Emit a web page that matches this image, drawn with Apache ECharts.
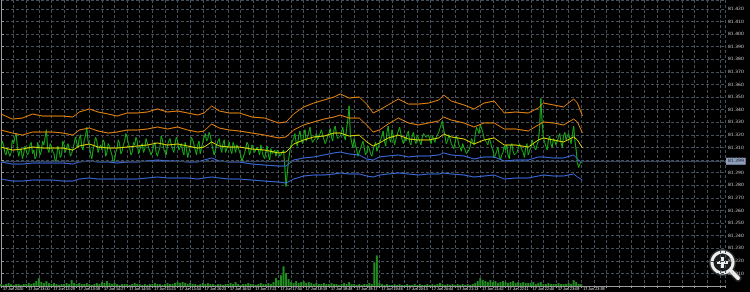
<!DOCTYPE html>
<html><head><meta charset="utf-8">
<script src="https://cdn.jsdelivr.net/npm/echarts@6/dist/echarts.min.js"></script>
<style>html,body{margin:0;padding:0;background:#000;}#c{width:750px;height:292px;}</style>
</head><body><div id="c"></div>
<script>
// time labels, one every 20 x-units
const timeLabels = ["17 Jun 2020","17 Jun 13:00","17 Jun 13:29","17 Jun 13:58","17 Jun 14:27","17 Jun 14:56","17 Jun 15:25","17 Jun 15:54","17 Jun 16:23","17 Jun 16:52","17 Jun 17:21","17 Jun 17:50","17 Jun 18:19","17 Jun 18:48","17 Jun 19:17","17 Jun 19:46","17 Jun 20:15","17 Jun 20:44","17 Jun 21:13","17 Jun 21:42","17 Jun 22:11","17 Jun 22:40","17 Jun 23:09","17 Jun 23:38"];
const labelEvery = 20;
// prices are in points above 81.200 (1 point = 0.001)
const priceBase = 81.2;
const pointSize = 0.001;
// close price, one sample per x-unit
const closeStep = 1;
const closePts = [
108,115,112,106,104,109,110,103,106,116,113,118,121,110,103,107,109,101,105,111,
111,104,106,112,114,105,108,101,103,114,110,104,107,115,112,118,124,109,106,113,
110,107,105,99,101,111,108,102,104,115,112,106,107,113,110,103,105,109,113,118,
114,110,117,120,111,108,116,119,126,115,112,105,101,108,113,118,115,106,110,112,
108,116,114,103,106,113,111,107,104,98,100,106,109,116,113,105,107,112,115,121,
118,113,110,104,106,114,112,118,115,105,108,111,113,106,109,117,116,110,111,104,
107,111,114,106,103,107,110,119,116,109,106,104,112,115,117,112,109,106,113,118,
115,108,110,113,107,104,114,109,102,106,111,118,116,112,108,104,112,115,105,110,
114,118,121,115,117,122,119,113,112,104,108,112,115,117,110,106,113,116,106,109,
111,114,108,105,114,111,106,112,110,107,104,99,100,105,109,114,112,104,107,112,
110,106,105,110,108,104,112,107,103,101,107,111,104,100,109,105,106,108,103,108,
106,103,102,106,108,95,79,90,100,107,112,115,117,121,114,111,119,123,116,113,
120,124,115,118,122,126,118,114,113,117,121,116,117,121,124,120,119,113,115,119,
121,125,118,115,124,127,120,117,116,119,122,126,119,116,125,132,143,120,114,110,
117,112,108,103,104,109,112,115,110,104,106,111,109,105,103,108,111,114,107,110,
113,116,119,123,115,111,122,127,117,114,124,119,112,116,120,123,126,121,116,113,
118,115,121,123,114,112,119,122,116,113,120,117,115,112,118,121,121,118,117,120,
116,113,119,117,114,118,120,122,125,128,131,124,119,113,115,120,117,113,112,109,
114,119,117,112,110,107,113,110,108,105,104,108,111,117,115,112,120,126,124,121,
128,125,122,117,118,114,112,117,115,110,108,102,104,107,110,103,100,104,106,111,
108,112,104,101,111,113,107,104,103,106,109,113,112,108,106,102,110,113,104,107,
110,116,113,110,108,112,115,125,149,130,118,114,111,108,116,119,113,110,117,115,
112,115,118,121,114,110,119,122,116,119,121,117,113,120,127,115,108,98,94,97,
99];
// tick volume, one bar every 2 x-units
const volumeStep = 2;
const tickVolume = [
2,1,2,3,2,1,2,2,1,2,
2,3,2,3,5,8,4,3,5,3,
2,3,2,1,2,2,3,2,6,3,
2,3,2,2,3,2,1,2,3,2,
4,3,5,3,2,3,2,1,2,2,
2,1,2,3,2,2,1,2,1,2,
2,3,2,2,1,2,3,2,2,3,
4,3,4,3,2,3,2,2,1,2,
3,2,3,2,2,1,2,2,1,2,
2,3,2,4,2,1,2,2,3,2,
2,1,2,3,2,2,3,2,4,8,
6,11,20,13,7,4,3,5,3,4,
5,3,4,3,2,3,2,2,3,2,
2,3,2,2,1,2,3,2,4,2,
2,1,2,1,2,2,3,2,24,31,
3,2,1,2,1,1,2,1,2,1,
1,2,1,1,2,1,2,1,1,2,
1,2,1,2,3,2,1,2,1,2,
1,2,1,2,1,2,1,2,3,5,
8,6,5,4,6,4,5,3,4,5,
4,3,4,5,3,4,3,4,3,3,
3,4,2,3,4,2,2,3,2,2,
2,3,2,2,2,3,2,6,4,2,
2];
// envelope bands, sampled at bandX
const bandX = [0,9,17,25,33,41,49,57,62,70,77,85,92,100,108,116,124,132,140,148,156,161,167,173,181,189,199,209,220,226,232,240,248,256,264,269,276,284,290,295,300,307,315,323,331,339,347,351,357,367,375,383,391,399,408,418,426,430,438,446,454,457,461];
const upperOuter = [136.5,132.5,133.3,136.5,134.9,134.9,134.9,134.1,138.1,140.5,138.1,136.5,134.9,137.3,137.3,138.1,140.5,138.1,138.9,137.3,135.7,137.3,142.9,138.9,137.3,137.3,134.1,133.3,129.4,130.2,136.5,142.1,145.2,147.6,150,152.4,149.2,150,144.4,137.3,139.7,143.7,148.4,144.4,144.4,145.2,147.6,151.6,146.8,143.7,140.5,145.2,146.8,137.3,138.1,137.3,141.3,145.2,143.7,142.1,148.4,145.2,134.9];
const upperInner = [123.8,121.4,119.8,122.2,122.2,122.2,121.4,119.8,123.8,125.4,123,121.4,122.2,123.8,123.8,124.6,126.2,124.6,126.2,123.8,122.2,123,128.6,125.4,123.8,123,121.4,119.8,117.5,118.3,123.8,127.8,130.2,132.5,134.1,135.7,133.3,133.3,127.8,122.2,123.8,128.6,133.3,129.4,127.8,129.4,131,134.1,131.7,129.4,126.2,129.4,129.4,124.6,124.6,123,127.8,130.2,129.4,127.8,132.5,130.2,121.4];
const middle = [110.3,107.9,108.7,110.3,109.5,109.5,109.5,107.9,111.1,112.7,110.3,109.5,109.5,110.3,111.1,111.9,113.5,111.9,112.7,111.1,109.5,110.3,114.3,111.1,110.3,110.3,108.7,107.9,105.6,106.3,112.7,115.9,118.3,119,121.4,121.4,119,119.8,114.3,111.1,113.5,117.5,119.8,116.7,115.9,115.9,117.5,120.6,118.3,116.7,112.7,115.9,117.5,111.9,111.9,110.3,115.9,117.5,115.9,114.3,118.3,115.9,109.5];
const lowerInner = [98.4,96.8,96.8,97.6,97.6,97.6,97.6,96.8,98.4,99.2,98.4,98.4,97.6,98.4,98.4,99.2,100,99.2,99.2,98.4,98.4,100,101.6,99.2,98.4,98.4,96.8,96,95.2,95.2,100,101.6,102.4,104,105.6,106.3,104.8,104,100.8,100,102.4,103.2,104,102.4,103.2,103.2,104,105.6,104,103.2,100.8,102.4,102.4,99.2,100,100,102.4,102.4,101.6,101.6,104,100.8,97.6];
const lowerOuter = [84.9,83.3,83.3,84.1,84.1,84.1,83.3,83.3,84.9,85.7,84.9,84.9,84.9,84.9,84.9,85.7,86.5,85.7,85.7,85.7,84.9,85.7,86.5,85.7,84.9,84.9,84.1,83.3,82.5,81.7,84.9,87.3,88.1,88.1,88.9,89.7,88.9,88.9,87.3,86.5,88.1,88.9,89.7,88.9,88.1,88.9,88.9,89.7,88.9,88.1,86.5,87.3,88.1,84.9,85.7,85.7,87.3,88.1,87.3,87.3,88.9,86.5,84.1];

const fmtPrice = v => (priceBase + v * pointSize).toFixed(3);
const bid = closePts[closePts.length - 1];
const pairs = (xs, ys) => ys.map((y, i) => [xs[i], y]);
const closeX = closePts.map((_, i) => i * closeStep);
const volumeX = tickVolume.map((_, i) => i * volumeStep);

const chart = echarts.init(document.getElementById('c'), null, {renderer: 'canvas'});
const gridLine = {show: true, lineStyle: {color: '#46505a', width: 1, type: [3, 2]}};
const bandLine = (name, ys, color) => ({
  name, type: 'line', data: pairs(bandX, ys), showSymbol: false, symbol: 'none',
  lineStyle: {color, width: 1}, z: 4, animation: false
});

chart.setOption({
  backgroundColor: '#000000',
  animation: false,
  grid: {left: -2, right: 25, top: 0, bottom: 6},
  xAxis: {
    type: 'value', min: 0, max: 574, interval: 10,
    splitLine: gridLine,
    axisLine: {show: true, lineStyle: {color: '#9c9c9c', width: 1}},
    axisTick: {show: true, length: 2, lineStyle: {color: '#9c9c9c'}},
    axisLabel: {
      show: true, color: '#e6e6e6', fontSize: 3.7, fontFamily: 'Liberation Sans',
      align: 'left', margin: 1, padding: [0, 0, 0, 2],
      formatter: v => (v % labelEvery === 0 && v / labelEvery < timeLabels.length) ? timeLabels[v / labelEvery] : ''
    }
  },
  yAxis: [{
    type: 'value', position: 'right', min: 0, max: 227, interval: 10,
    splitLine: gridLine,
    axisLine: {show: true, lineStyle: {color: '#9c9c9c', width: 1}},
    axisTick: {show: true, length: 3, lineStyle: {color: '#9c9c9c'}},
    axisLabel: {
      show: true, color: '#c8c8c8', fontSize: 4.5, fontFamily: 'DejaVu Sans',
      margin: 3, showMinLabel: false, showMaxLabel: false, formatter: fmtPrice
    }
  }, {
    type: 'value', min: 0, max: 290, show: false
  }],
  series: [
    {name: 'Volume', type: 'bar', yAxisIndex: 1, data: pairs(volumeX, tickVolume),
     barWidth: 2, itemStyle: {color: '#1f8f1f'}, z: 1, animation: false},
    {name: 'Close', type: 'line', data: pairs(closeX, closePts), showSymbol: false, symbol: 'none',
     sampling: null, lineStyle: {color: '#19b519', width: 1}, z: 3, animation: false,
     markLine: {
       silent: true, symbol: 'none', animation: false,
       lineStyle: {color: '#34445a', width: 1, type: 'solid'},
       label: {show: true, position: 'end', distance: 1, formatter: () => fmtPrice(bid),
               color: '#101828', backgroundColor: '#8d9cb8', fontSize: 4.5,
               fontFamily: 'DejaVu Sans', padding: [1, 2, 1, 2]},
       data: [{yAxis: bid}]
     }},
    bandLine('Upper 2', upperOuter, '#f0890f'),
    bandLine('Upper 1', upperInner, '#f0890f'),
    bandLine('Middle', middle, '#e8e000'),
    bandLine('Lower 1', lowerInner, '#3d6fe6'),
    bandLine('Lower 2', lowerOuter, '#3d6fe6')
  ],
  graphic: [{
    type: 'group', z: 100, children: [
      {type: 'circle', shape: {cx: 722.5, cy: 262.5, r: 12.5}, style: {fill: '#1c1c1c', stroke: '#2e2e2e', lineWidth: 2}},
      {type: 'line', shape: {x1: 731, y1: 271, x2: 738, y2: 278}, style: {stroke: '#2e2e2e', lineWidth: 7, lineCap: 'round'}},
      {type: 'line', shape: {x1: 731, y1: 271, x2: 738, y2: 278}, style: {stroke: '#eeeeee', lineWidth: 4, lineCap: 'round'}},
      {type: 'circle', shape: {cx: 722.5, cy: 262.5, r: 10.5}, style: {fill: 'rgba(0,0,0,0)', stroke: '#eeeeee', lineWidth: 3}},
      {type: 'rect', shape: {x: 717, y: 261, width: 11, height: 3}, style: {fill: '#eeeeee'}},
      {type: 'rect', shape: {x: 721, y: 257, width: 3, height: 11}, style: {fill: '#eeeeee'}}
    ]
  }]
});
</script>
</body></html>
